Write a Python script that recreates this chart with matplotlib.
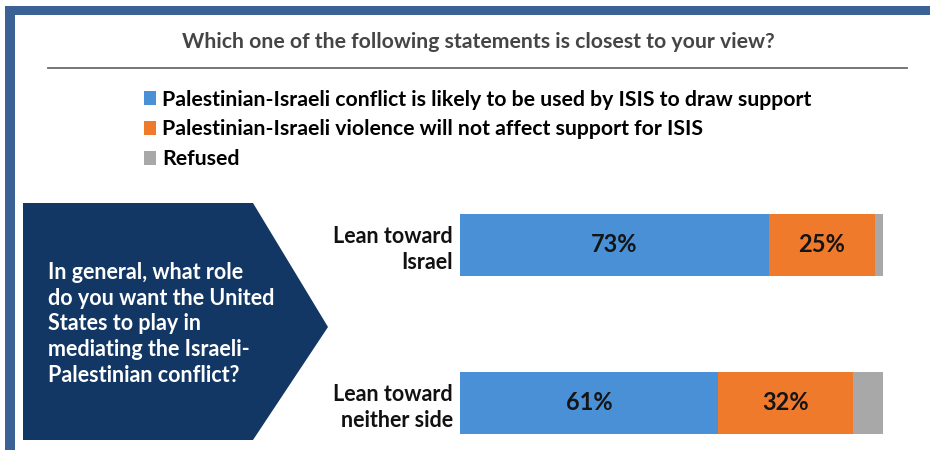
import matplotlib
matplotlib.use("Agg")
import matplotlib.pyplot as plt
from matplotlib.patches import Polygon, Rectangle

plt.rcParams['font.family'] = ['Lato', 'DejaVu Sans']

categories = ["Lean toward\nIsrael", "Lean toward\nneither side"]
series_names = [
    "Palestinian-Israeli conflict is likely to be used by ISIS to draw support",
    "Palestinian-Israeli violence will not affect support for ISIS",
    "Refused",
]
likely_used = [73, 61]
not_affect = [25, 32]
refused = [2, 7]
value_labels = [["73%", "61%"], ["25%", "32%"], ["", ""]]

title = "Which one of the following statements is closest to your view?"
question = ("In general, what role\ndo you want the United\nStates to play in\n"
            "mediating the Israeli-\nPalestinian conflict?")

colors = ["#4a90d6", "#f07a2c", "#a8a8a8"]

W, H = 930, 450
fig = plt.figure(figsize=(W / 100, H / 100), dpi=100)
fig.patch.set_facecolor("white")

# overlay axes in pixel coordinates
bg = fig.add_axes([0, 0, 1, 1], zorder=0)
bg.set_xlim(0, W)
bg.set_ylim(H, 0)
bg.axis("off")

frame_c = "#3b6294"
bg.add_patch(Rectangle((5, 6), W - 5, 9, color=frame_c, lw=0))
bg.add_patch(Rectangle((5, 6), 10, H - 6, color=frame_c, lw=0))

bg.text(478, 42, title, ha="center", va="center", fontsize=15.3,
        fontweight="bold", color="#454545")
bg.plot([48, 907], [68, 68], color="#6b6b6b", lw=1.3)

# arrow shape
arrow = Polygon([(23, 203), (253, 203), (328, 327), (253, 440), (23, 440)],
                closed=True, color="#123764", lw=0)
bg.add_patch(arrow)
bg.text(48, 324, question, ha="left", va="center", fontsize=15.5,
        fontweight="bold", color="white", linespacing=1.28)

# bar axes
x0, x1 = 460, 883
top, bot = 214, 434
ax = fig.add_axes([x0 / W, 1 - bot / H, (x1 - x0) / W, (bot - top) / H], zorder=1)
ax.patch.set_alpha(0)
pos = list(range(len(categories)))
h = 62 / 158
left = [0] * len(categories)
containers = []
for vals, col, name, labs in zip([likely_used, not_affect, refused], colors,
                                 series_names, value_labels):
    bc = ax.barh(pos, vals, left=left, height=h, color=col, label=name, lw=0)
    containers.append(bc)
    ax.bar_label(bc, labels=labs, label_type="center", fontsize=17,
                 fontweight="bold", color="#151515")
    left = [l + v for l, v in zip(left, vals)]

ax.set_xlim(0, 100)
ax.set_ylim(1 + h / 2, -h / 2)
ax.set_yticks(pos)
ax.set_yticklabels(categories, fontsize=15.5, fontweight="bold", color="#111111",
                   ha="right", linespacing=1.32)
ax.tick_params(axis="y", length=0, pad=5)
ax.set_xticks([])
for s in ax.spines.values():
    s.set_visible(False)

fig.legend(handles=containers, labels=series_names, loc="upper left",
           bbox_to_anchor=(135 / W, 1 - 81 / H), bbox_transform=fig.transFigure,
           frameon=False, prop={"weight": "bold", "size": 15.3},
           handlelength=0.58, handleheight=0.58, handletextpad=0.3,
           labelspacing=0.47, borderaxespad=0)

fig.savefig("out.png", dpi=100, facecolor="white")
